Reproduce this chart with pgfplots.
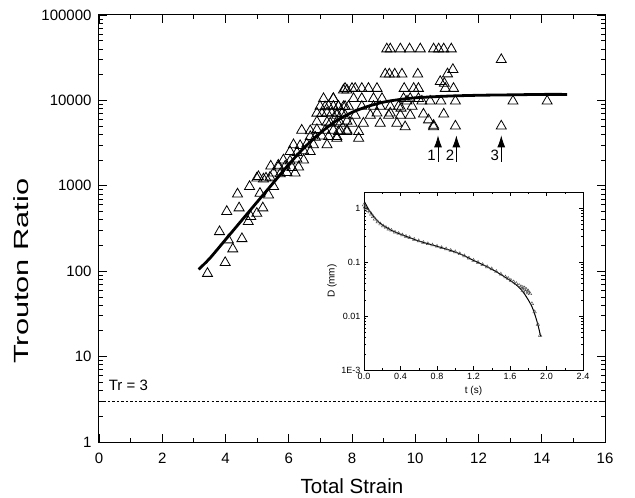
\documentclass[border=0pt]{standalone}
\usepackage{fontspec}
\setmainfont{Liberation Sans}
\usepackage{pgfplots}
\pgfplotsset{compat=1.18}
\usetikzlibrary{calc,arrows.meta}

\begin{document}
\begin{tikzpicture}
\begin{axis}[
    name=main,
    scale only axis,
    width=506bp, height=427bp,
    xmin=0, xmax=16,
    ymin=1, ymax=100000,
    ymode=log,
    xtick={0,2,4,6,8,10,12,14,16},
    minor xtick={1,3,5,7,9,11,13,15},
    ytick={1,10,100,1000,10000,100000},
    yticklabels={1,10,100,1000,10000,100000},
    minor ytick={2,3,4,5,6,7,8,9,20,30,40,50,60,70,80,90,200,300,400,500,600,700,800,900,2000,3000,4000,5000,6000,7000,8000,9000,20000,30000,40000,50000,60000,70000,80000,90000},
    tick align=inside,
    major tick length=8bp, minor tick length=4.5bp,
    tick style={black, line width=0.8bp},
    axis line style={line width=1bp},
    ticklabel style={font=\fontsize{15bp}{18bp}\selectfont},
    xticklabel style={yshift=-8bp},
    yticklabel style={xshift=-4bp},
    xlabel={Total Strain},
    ylabel={\scalebox{1.5}[1]{Trouton Ratio}},
    every axis x label/.style={at={(rel axis cs:0.5,0)}, yshift=-44bp, anchor=center,
        font=\fontsize{20.5bp}{24bp}\selectfont},
    every axis y label/.style={at={(rel axis cs:0,0.4)}, xshift=-78bp, rotate=90, anchor=center,
        font=\fontsize{20.5bp}{24bp}\selectfont},
    /pgf/number format/assume math mode=true,
    clip=false,
]

% measured Trouton ratios
\addplot[only marks, mark=triangle, mark size=5.8bp, mark options={black, line width=0.8bp}]
    table {
    x y
    3.43 94
    3.99 126
    3.81 290
    4.09 232
    4.23 182
    4.52 240
    4.04 500
    4.38 800
    4.43 550
    4.76 980
    4.72 380
    4.80 435
    4.99 475
    5.18 550
    5.04 1280
    5.09 815
    5.36 780
    5.28 1230
    5.52 980
    5.43 1700
    5.67 1740
    4.99 1230
    5.20 1200
    5.41 1260
    5.52 1410
    5.73 1380
    5.94 1430
    6.20 1410
    5.67 1660
    5.89 1700
    6.10 1630
    6.31 1660
    5.83 2000
    6.04 1950
    6.26 2050
    6.47 2000
    6.04 2510
    6.26 2450
    6.47 2560
    6.68 2510
    6.15 3020
    6.36 2950
    6.57 3080
    6.78 3020
    7.21 3020
    6.68 3760
    6.84 3700
    7.05 3820
    7.26 3760
    7.52 3760
    6.41 4470
    6.68 4400
    6.89 4550
    7.15 4470
    7.41 4470
    7.63 4400
    7.84 4470
    6.89 5620
    7.21 5550
    7.52 5620
    7.84 5700
    6.89 7080
    7.05 7000
    7.21 7150
    7.36 7080
    7.52 7080
    7.68 7000
    6.99 8510
    7.15 8400
    7.26 8600
    7.41 8510
    7.57 8510
    7.73 8450
    7.89 8510
    7.10 10470
    7.41 10470
    7.73 13200
    7.84 13200
    9.10 40000
    9.21 40000
    9.53 40000
    9.82 40000
    10.16 40000
    10.58 40000
    10.74 40000
    10.90 40000
    11.14 40000
    9.05 20300
    9.18 20300
    9.35 20300
    9.58 20300
    10.08 20300
    11.02 20400
    11.19 23000
    10.79 16600
    10.92 15800
    7.78 13800
    8.00 13800
    8.10 13800
    8.31 13800
    8.52 13800
    8.79 13800
    9.65 13800
    9.95 13800
    10.10 13800
    10.95 13800
    11.21 13800
    7.41 10500
    8.05 10500
    8.31 10500
    8.68 10500
    8.95 10500
    9.63 10500
    9.84 10500
    10.10 10500
    10.47 9800
    10.81 9800
    11.27 9800
    9.74 9800
    10.21 9800
    7.57 8500
    7.78 8500
    8.31 8500
    8.68 8500
    8.89 8500
    9.21 8500
    9.47 8500
    9.90 8500
    9.55 8100
    7.52 6700
    7.78 6700
    8.10 6700
    8.58 6700
    9.16 6700
    9.53 6700
    9.84 6700
    10.26 6900
    10.90 6900
    8.79 7100
    9.21 7100
    7.31 5400
    7.63 5400
    8.00 5400
    8.36 5400
    8.89 5400
    9.42 5400
    10.42 5900
    10.58 5100
    7.57 4300
    7.84 4300
    8.21 4300
    9.68 4900
    7.52 3600
    8.21 3600
    10.58 4900
    11.27 5000
    12.72 30000
    12.72 5000
    13.09 9800
    14.17 9800
    };

% fitted curve
\addplot[black, line width=2.8bp, smooth]
    coordinates {
    (3.15,105)(3.5,141)(4,234)(4.5,389)(5,646)(5.5,1070)(6,1780)(6.5,2820)
    (7,4170)(7.5,5750)(8,7240)(8.5,8510)(9,9550)(9.5,10230)(10,10720)
    (11,11220)(12,11480)(13,11610)(14,11750)(14.8,11750)
    };

% Tr = 3
\addplot[black, line width=0.8bp, dash pattern=on 2.5bp off 2bp]
    coordinates {(0,3)(16,3)};
\node[anchor=west, font=\fontsize{15bp}{18bp}\selectfont] at (axis cs:0.2,4.6) {Tr = 3};

\draw[line width=1bp, -{Latex[length=12bp,width=8bp]}] (axis cs:10.72,1900) -- (axis cs:10.72,3900);
\draw[line width=1bp, -{Latex[length=12bp,width=8bp]}] (axis cs:11.30,1900) -- (axis cs:11.30,3900);
\draw[line width=1bp, -{Latex[length=12bp,width=8bp]}] (axis cs:12.72,1900) -- (axis cs:12.72,3900);
\node[anchor=east, inner sep=0pt, font=\fontsize{15bp}{18bp}\selectfont] at ([xshift=-2bp]axis cs:10.72,2250) {1};
\node[anchor=east, inner sep=0pt, font=\fontsize{15bp}{18bp}\selectfont] at ([xshift=-2bp]axis cs:11.30,2250) {2};
\node[anchor=east, inner sep=0pt, font=\fontsize{15bp}{18bp}\selectfont] at ([xshift=-2bp]axis cs:12.72,2250) {3};
\end{axis}

\begin{axis}[
    at={($(main.south west)+(265bp,72bp)$)}, anchor=south west,
    scale only axis,
    width=219bp, height=178bp,
    xmin=0, xmax=2.4,
    ymin=0.001, ymax=2,
    ymode=log,
    axis background/.style={fill=white},
    xtick={0,0.4,0.8,1.2,1.6,2.0,2.4},
    xticklabels={0.0,0.4,0.8,1.2,1.6,2.0,2.4},
    minor xtick={0.2,0.6,1.0,1.4,1.8,2.2},
    ytick={0.001,0.01,0.1,1},
    yticklabels={1E-3,0.01,0.1,1},
    minor ytick={0.002,0.003,0.004,0.005,0.006,0.007,0.008,0.009,0.02,0.03,0.04,0.05,0.06,0.07,0.08,0.09,0.2,0.3,0.4,0.5,0.6,0.7,0.8,0.9,2},
    tick align=inside,
    major tick length=4bp, minor tick length=2bp,
    tick style={black, line width=0.5bp},
    axis line style={line width=0.7bp},
    ticklabel style={font=\fontsize{9bp}{11bp}\selectfont},
    label style={font=\fontsize{10bp}{12bp}\selectfont},
    xlabel={t (s)},
    ylabel={D (mm)},
    ylabel style={yshift=-2bp},
]
\addplot[only marks, mark=triangle, mark size=2bp, mark options={gray!60!black, line width=0.4bp}]
    table {
    x y
    0.00 1.15
    0.01 1.05
    0.02 0.98
    0.04 0.90
    0.06 0.85
    0.08 0.78
    0.10 0.70
    0.12 0.63
    0.15 0.56
    0.18 0.51
    0.21 0.47
    0.24 0.44
    0.27 0.41
    0.30 0.39
    0.34 0.36
    0.38 0.34
    0.42 0.32
    0.46 0.30
    0.50 0.285
    0.55 0.265
    0.60 0.248
    0.65 0.232
    0.70 0.220
    0.75 0.208
    0.80 0.197
    0.85 0.186
    0.90 0.176
    0.95 0.165
    1.00 0.155
    1.05 0.143
    1.10 0.131
    1.15 0.119
    1.20 0.108
    1.25 0.099
    1.30 0.090
    1.35 0.082
    1.40 0.075
    1.45 0.067
    1.50 0.060
    1.55 0.053
    1.58 0.050
    1.61 0.046
    1.64 0.043
    1.67 0.040
    1.70 0.037
    1.72 0.035
    1.74 0.034
    1.76 0.033
    1.78 0.031
    1.80 0.029
    1.74 0.030
    1.77 0.028
    1.80 0.027
    1.82 0.026
    1.84 0.017
    1.87 0.012
    1.905 0.007
    1.93 0.0044
    };
\addplot[black, line width=1bp, smooth]
    coordinates {
    (0,1.37)(0.03,1.1)(0.06,0.9)(0.1,0.72)(0.15,0.58)(0.2,0.49)(0.3,0.39)
    (0.4,0.33)(0.5,0.285)(0.6,0.247)(0.7,0.22)(0.8,0.197)(0.9,0.175)(1.0,0.154)
    (1.1,0.131)(1.2,0.108)(1.3,0.09)(1.4,0.074)(1.5,0.059)(1.6,0.046)(1.65,0.04)
    (1.7,0.034)(1.75,0.027)(1.8,0.02)(1.84,0.015)(1.87,0.011)(1.9,0.0075)
    (1.92,0.0055)(1.935,0.0042)
    };
\end{axis}

\pgfresetboundingbox
\path ($(main.south west)+(-99bp,-56bp)$) rectangle ($(main.north east)+(30bp,15bp)$);
\end{tikzpicture}
\end{document}
